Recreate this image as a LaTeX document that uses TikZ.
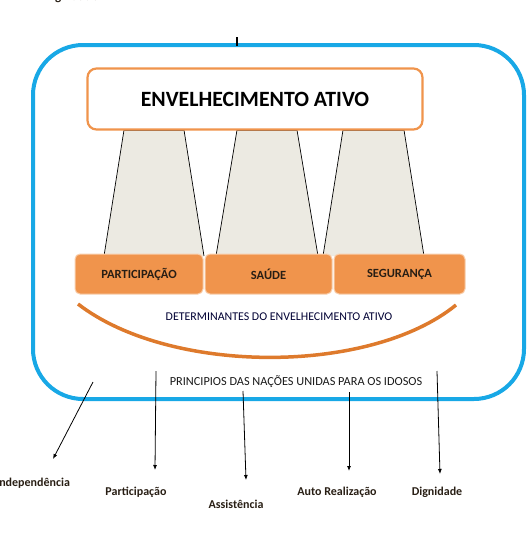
\documentclass[tikz,border=0pt]{standalone}
\usepackage{fontspec}
\setmainfont{Carlito}
\usetikzlibrary{arrows.meta}
\definecolor{frameblue}{RGB}{24,168,230}
\definecolor{boxorange}{RGB}{240,148,76}
\definecolor{arcorange}{RGB}{222,122,44}
\definecolor{pillar}{RGB}{236,234,226}
\definecolor{darktext}{RGB}{40,30,20}
\begin{document}
\begin{tikzpicture}[x=1pt,y=-1pt,
  detbox/.style={draw=boxorange!45!white, line width=1pt, fill=boxorange, rounded corners=5pt,
     minimum width=127pt, minimum height=40pt, inner sep=0pt,
     font=\bfseries\fontsize{12.5}{14}\selectfont, text=darktext},
  pillarshape/.style={fill=pillar, draw=none},
  pillarside/.style={draw=black, line width=0.7pt},
  lab/.style={font=\bfseries\fontsize{12}{14}\selectfont, text=darktext, inner sep=0pt},
  arr/.style={draw=black, line width=0.8pt, -{Latex[length=5pt,width=4pt]}}
]
\useasboundingbox (0,0) rectangle (532,552);
% cropped top text (cut off at the top edge, as in the reference)
\node[lab, font=\bfseries\fontsize{13}{14}\selectfont, anchor=base] (topd) at (71,0) {Dignidade};
% outer blue frame
\draw[frameblue, line width=4pt, rounded corners=50pt] (33,45) rectangle (524,399);
% small tick
\draw[black, line width=2pt] (237,37) -- (237,46);
% pillars
\foreach \a/\b/\c/\d [count=\i] in {124/184/104/204, 237/297/216/318, 343/404/323/424}{
  \fill[pillar] (\a,130) -- (\b,130) -- (\d,256) -- (\c,256) -- cycle;
  \draw[pillarside] (\a,130) -- (\c,256);
  \draw[pillarside] (\b,130) -- (\d,256);
  \draw[black!70, line width=0.6pt] (\a,130) -- (\b,130);
}
% title box
\node[draw=boxorange, line width=2.2pt, fill=white, rounded corners=9pt,
      minimum width=335pt, minimum height=61pt,
      font=\bfseries\fontsize{21.8}{24}\selectfont, text=black] (title) at (255,99) {ENVELHECIMENTO ATIVO};
% determinant boxes
\node[detbox, minimum width=128pt] (part) at (139,274) {PARTICIPAÇÃO};
\node[detbox, minimum width=127pt] (saude) at (268.5,274) {SAÚDE};
\node[detbox, minimum width=131pt] (seg) at (399.5,274) {SEGURANÇA};
% arc
\coordinate (arcL) at (78,304);
\coordinate (arcR) at (456,305);
\draw[arcorange, line width=3.5pt] (arcL) .. controls (170,375) and (370,375) .. (arcR);
\node[font=\fontsize{11.9}{13}\selectfont, text=black!80!blue, inner sep=0pt] (det) at (279,317) {DETERMINANTES DO ENVELHECIMENTO ATIVO};
\node[font=\fontsize{12.3}{14}\selectfont, text=black!90, inner sep=0pt] (princ) at (296,382) {PRINCIPIOS DAS NAÇÕES UNIDAS PARA OS IDOSOS};
% bottom labels
\node[lab] (indep) at (33,483) {Independência};
\node[lab] (lpart) at (136,492) {Participação};
\node[lab] (assist) at (236,504) {Assistência};
\node[lab] (auto) at (337,492) {Auto Realização};
\node[lab] (dign) at (437,492) {Dignidade};
% arrow starts and ends
\coordinate (s1) at (93,382);
\coordinate (s2) at (156,371);
\coordinate (s3) at (243,391);
\coordinate (s4) at (349,392);
\coordinate (s5) at (437,371);
\coordinate (e1) at (53,459);
\coordinate (e2) at (155,470);
\coordinate (e3) at (246,480);
\coordinate (e4) at (349,471);
\coordinate (e5) at (440,474);
\draw[arr] (s1) -- (e1);
\draw[arr] (s2) -- (e2);
\draw[arr] (s3) -- (e3);
\draw[arr] (s4) -- (e4);
\draw[arr] (s5) -- (e5);
\end{tikzpicture}
\end{document}
